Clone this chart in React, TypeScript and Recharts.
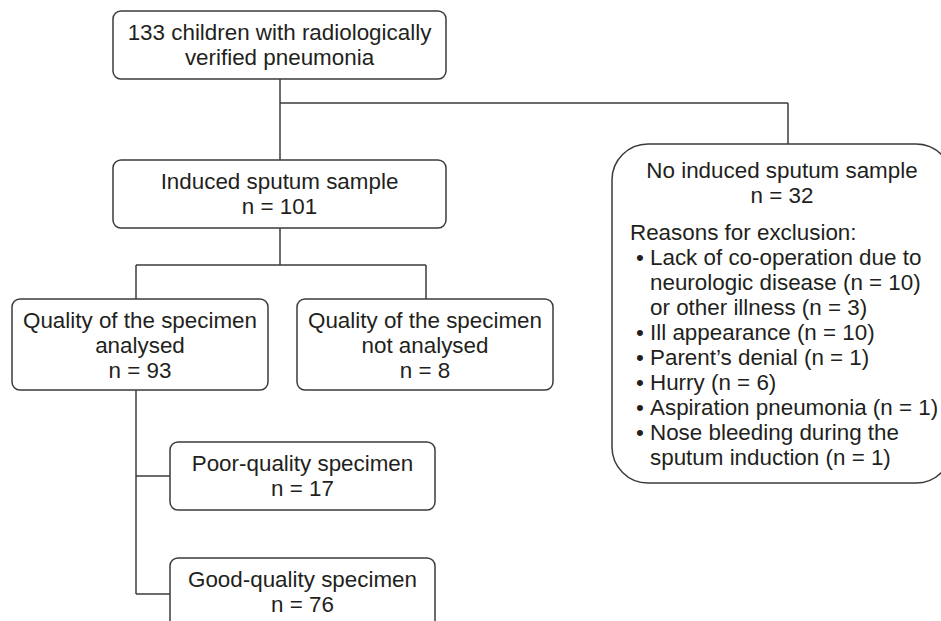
import { ScatterChart, Scatter, XAxis, YAxis, ReferenceArea, ReferenceLine } from 'recharts';

// ---- data (texts and counts) ----
const stageLines: string[][] = [
  ['133 children with radiologically', 'verified pneumonia'],
  ['Induced sputum sample'],
  ['No induced sputum sample'],
  ['Quality of the specimen', 'analysed'],
  ['Quality of the specimen', 'not analysed'],
  ['Poor-quality specimen'],
  ['Good-quality specimen'],
];
const stageCounts: (number | null)[] = [null, 101, 32, 93, 8, 17, 76];

const exclusionTitle = 'Reasons for exclusion:';
const exclusionReasons: string[][] = [
  ['Lack of co-operation due to', 'neurologic disease (n = 10)', 'or other illness (n = 3)'],
  ['Ill appearance (n = 10)'],
  ['Parent\u2019s denial (n = 1)'],
  ['Hurry (n = 6)'],
  ['Aspiration pneumonia (n = 1)'],
  ['Nose bleeding during the', 'sputum induction (n = 1)'],
];

// ---- layout (diagram coordinates, 1 unit = 1px) ----
const W = 941;
const H = 621;
const BOXES = [
  { x1: 113, x2: 446, y1: 11, y2: 79, r: 8 },
  { x1: 113, x2: 446, y1: 160, y2: 228, r: 8 },
  { x1: 612, x2: 952, y1: 144, y2: 483, r: 36 },
  { x1: 12, x2: 268, y1: 299, y2: 390, r: 8 },
  { x1: 297, x2: 553, y1: 299, y2: 390, r: 8 },
  { x1: 170, x2: 435, y1: 442, y2: 510, r: 8 },
  { x1: 170, x2: 435, y1: 558, y2: 650, r: 8 },
];
const CONNECTORS = [
  [280, 79, 280, 160],
  [280, 103, 788, 103],
  [788, 103, 788, 144],
  [280, 228, 280, 265],
  [136, 265, 426, 265],
  [136, 265, 136, 299],
  [426, 265, 426, 299],
  [136, 390, 136, 594],
  [136, 476, 170, 476],
  [136, 594, 170, 594],
];

const STROKE = '#3b3b3b';
const INK = '#231f20';
const FONT = '"Liberation Sans", Arial, Helvetica, sans-serif';
const FS = 22.4;
const LH = 25;

function lineText(x: number, y: number, s: string, anchor: 'middle' | 'start', key: string) {
  return (
    <text key={key} x={x} y={y} dy="0.35em" textAnchor={anchor} fill={INK}
      fontFamily={FONT} fontSize={FS}>{s}</text>
  );
}

function StageBox(props: any) {
  const { x, y, width, height, idx } = props;
  const b = BOXES[idx];
  const lines = [...stageLines[idx]];
  if (stageCounts[idx] !== null) lines.push(`n = ${stageCounts[idx]}`);
  const cx = x + width / 2;
  const out: any[] = [];
  if (idx === 2) {
    lines.forEach((s, i) => out.push(lineText(cx, y + 26 + i * LH, s, 'middle', 'h' + i)));
    let ly = y + 88;
    out.push(lineText(x + 18, ly, exclusionTitle, 'start', 't'));
    exclusionReasons.forEach((r, ri) => {
      r.forEach((s, si) => {
        ly += LH;
        if (si === 0) out.push(lineText(x + 24, ly, '\u2022', 'start', 'b' + ri));
        out.push(lineText(x + 38, ly, s, 'start', 'r' + ri + '-' + si));
      });
    });
  } else {
    lines.forEach((s, i) => out.push(lineText(cx, y + 21 + i * LH, s, 'middle', 'l' + i)));
  }
  return (
    <g>
      <rect x={x} y={y} width={width} height={height} rx={b.r} ry={b.r}
        fill="#fff" stroke={STROKE} strokeWidth={1.5} />
      {out}
    </g>
  );
}

export default function App() {
  return (
    <div style={{ position: 'absolute', left: 0, top: 0, background: '#fff' }}>
      <ScatterChart width={W} height={H} margin={{ top: 0, right: 0, bottom: 0, left: 0 }}>
        <XAxis type="number" dataKey="x" domain={[0, W]} hide allowDataOverflow />
        <YAxis type="number" dataKey="y" domain={[0, H]} reversed hide allowDataOverflow />
        <Scatter data={[]} isAnimationActive={false} />
        {CONNECTORS.map((c, i) => (
          <ReferenceLine key={'c' + i} segment={[{ x: c[0], y: c[1] }, { x: c[2], y: c[3] }]}
            stroke={STROKE} strokeWidth={1.5} ifOverflow="visible" />
        ))}
        {BOXES.map((b, i) => (
          <ReferenceArea key={'b' + i} x1={b.x1} x2={b.x2} y1={b.y1} y2={b.y2}
            ifOverflow="visible" shape={(p: any) => <StageBox {...p} idx={i} />} />
        ))}
      </ScatterChart>
    </div>
  );
}
